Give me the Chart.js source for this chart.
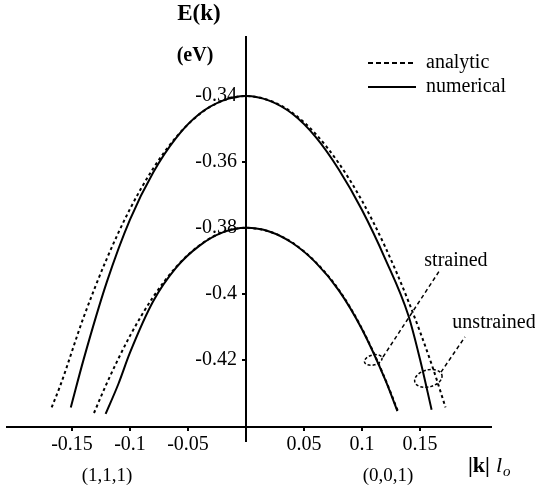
<!DOCTYPE html>
<html>
<head>
<meta charset="utf-8">
<script src="https://cdn.jsdelivr.net/npm/chart.js@4"></script>
<style>
  html, body { margin: 0; padding: 0; background: #fff; }
  canvas { display: block; }
</style>
</head>
<body>
<canvas id="c" width="535" height="492"></canvas>
<script>
// ---- data ----
const xTicks = [-0.15, -0.1, -0.05, 0.05, 0.1, 0.15];
const xTickLabels = ['-0.15', '-0.1', '-0.05', '0.05', '0.1', '0.15'];
const yTicks = [-0.34, -0.36, -0.38, -0.4, -0.42];
const yTickLabels = ['-0.34', '-0.36', '-0.38', '-0.4', '-0.42'];

// unstrained, numerical (solid)
const upperNumK = [-0.151, -0.14, -0.12, -0.10, -0.08, -0.06, -0.04, -0.02, 0, 0.02, 0.04, 0.06, 0.08, 0.10, 0.12, 0.14, 0.15, 0.16];
const upperNumE = [-0.4345, -0.4200, -0.3965, -0.3775, -0.3632, -0.3526, -0.3454, -0.3414, -0.34, -0.3414, -0.3454, -0.3524, -0.3623, -0.3746, -0.3894, -0.4066, -0.4199, -0.4352];
// unstrained, analytic (dashed)
const upperAnaK = [-0.1675, -0.16, -0.14, -0.12, -0.10, -0.08, -0.06, -0.04, -0.02, 0, 0.02, 0.04, 0.06, 0.08, 0.10, 0.12, 0.14, 0.16, 0.172];
const upperAnaE = [-0.4345, -0.4278, -0.4072, -0.3894, -0.3743, -0.3620, -0.3524, -0.3455, -0.3414, -0.34, -0.3413, -0.3451, -0.3515, -0.3604, -0.3718, -0.3858, -0.4023, -0.4214, -0.4345];
// strained, numerical (solid)
const lowerNumK = [-0.121, -0.11, -0.10, -0.08, -0.06, -0.04, -0.02, 0, 0.02, 0.04, 0.06, 0.08, 0.10, 0.12, 0.1305];
const lowerNumE = [-0.4365, -0.4274, -0.4179, -0.4023, -0.3920, -0.3854, -0.3814, -0.38, -0.3811, -0.3846, -0.3905, -0.3990, -0.4108, -0.4261, -0.4356];
// strained, analytic (dashed)
const lowerAnaK = [-0.131, -0.12, -0.10, -0.08, -0.06, -0.04, -0.02, 0, 0.02, 0.04, 0.06, 0.08, 0.10, 0.12, 0.131];
const lowerAnaE = [-0.4362, -0.4272, -0.4128, -0.4010, -0.3918, -0.3853, -0.3813, -0.38, -0.3811, -0.3845, -0.3904, -0.3988, -0.4106, -0.4259, -0.4357];

const seriesLabels = ['analytic', 'numerical'];

// annotation anchors in data units (k, E)
const strainedEllipse = [0.1097, -0.4201];
const strainedLeader = [[0.1181, -0.4192], [0.1672, -0.3928]];
const strainedText = [0.181, -0.3901];
const unstrainedEllipse = [0.1572, -0.4257];
const unstrainedLeader = [[0.1681, -0.4238], [0.1888, -0.4131]];
const unstrainedText = [0.2138, -0.4089];

const pts = (ks, es) => ks.map((k, i) => ({ x: k, y: es[i] }));

const SERIF = '"Liberation Serif", "Times New Roman", serif';

const legendMover = {
  id: 'legendMover',
  afterLayout(chart) {
    const lg = chart.legend;
    if (!lg) return;
    const w = lg.width, h = 60;
    lg.left = 364; lg.top = 49; lg.right = 364 + w; lg.bottom = 49 + h; lg.height = h;
  }
};

const labelPlugin = {
  id: 'labelPlugin',
  afterDraw(chart) {
    const { ctx, scales: { x, y } } = chart;
    const px = v => x.getPixelForValue(v), py = v => y.getPixelForValue(v);
    ctx.save();
    ctx.fillStyle = '#000';
    ctx.strokeStyle = '#000';
    ctx.textBaseline = 'middle';

    // y-axis title
    ctx.textAlign = 'center';
    ctx.font = 'bold 23px ' + SERIF;
    ctx.fillText('E(k)', 199, 14);
    ctx.font = 'bold 20px ' + SERIF;
    ctx.fillText('(eV)', 195, 56);

    // direction labels
    ctx.font = '19px ' + SERIF;
    ctx.fillText('(1,1,1)', 107, 476);
    ctx.fillText('(0,0,1)', 388, 476);

    // x-axis title |k| l_o
    ctx.textAlign = 'left';
    ctx.font = 'bold 22px ' + SERIF;
    let cx = 468;
    ctx.fillText('|k|', cx, 466);
    cx += ctx.measureText('|k|').width + 6;
    ctx.font = 'italic 22px ' + SERIF;
    ctx.fillText('l', cx, 466);
    cx += ctx.measureText('l').width + 1;
    ctx.font = 'italic 15px ' + SERIF;
    ctx.fillText('o', cx, 472);

    // annotations
    ctx.font = '20px ' + SERIF;
    ctx.textAlign = 'center';
    ctx.fillText('strained', px(strainedText[0]), py(strainedText[1]));
    ctx.fillText('unstrained', px(unstrainedText[0]), py(unstrainedText[1]));

    ctx.lineWidth = 1.5;
    ctx.setLineDash([4, 3]);
    const leader = (seg) => {
      ctx.beginPath();
      ctx.moveTo(px(seg[0][0]), py(seg[0][1]));
      ctx.lineTo(px(seg[1][0]), py(seg[1][1]));
      ctx.stroke();
    };
    leader(strainedLeader);
    leader(unstrainedLeader);
    ctx.setLineDash([3, 2]);
    ctx.beginPath();
    ctx.ellipse(px(strainedEllipse[0]), py(strainedEllipse[1]), 9, 5, -0.25, 0, Math.PI * 2);
    ctx.stroke();
    ctx.beginPath();
    ctx.ellipse(px(unstrainedEllipse[0]), py(unstrainedEllipse[1]), 14, 8.5, -0.25, 0, Math.PI * 2);
    ctx.stroke();
    ctx.restore();
  }
};

const dashed = { borderColor: '#000', borderWidth: 2, borderDash: [3, 3], pointRadius: 0, showLine: true, cubicInterpolationMode: 'monotone', fill: false };
const solid = { borderColor: '#000', borderWidth: 2, borderDash: [], pointRadius: 0, showLine: true, cubicInterpolationMode: 'monotone', fill: false };

new Chart(document.getElementById('c'), {
  type: 'scatter',
  data: {
    datasets: [
      Object.assign({ label: seriesLabels[0], data: pts(upperAnaK, upperAnaE) }, dashed),
      Object.assign({ label: seriesLabels[1], data: pts(upperNumK, upperNumE) }, solid),
      Object.assign({ label: seriesLabels[0], data: pts(lowerAnaK, lowerAnaE) }, dashed),
      Object.assign({ label: seriesLabels[1], data: pts(lowerNumK, lowerNumE) }, solid)
    ]
  },
  options: {
    responsive: false,
    animation: false,
    devicePixelRatio: 1,
    layout: { padding: { left: 7, right: 44, top: 37, bottom: 51 } },
    scales: {
      x: {
        type: 'linear', min: -0.206, max: 0.2112,
        position: { y: -0.44045 },
        border: { display: true, color: '#000', width: 2 },
        grid: { display: true, drawOnChartArea: false, drawTicks: true, tickLength: 3, color: '#000', lineWidth: 2 },
        afterBuildTicks: ax => { ax.ticks = xTicks.map(v => ({ value: v })); },
        ticks: {
          autoSkip: false, maxRotation: 0, padding: 3, color: '#000',
          font: { family: SERIF, size: 20 },
          callback: v => xTickLabels[xTicks.indexOf(v)]
        }
      },
      y: {
        type: 'linear', min: -0.4447, max: -0.32209,
        position: { x: 0 },
        border: { display: true, color: '#000', width: 2 },
        grid: { display: true, drawOnChartArea: false, drawTicks: true, tickLength: 3, color: '#000', lineWidth: 2 },
        afterBuildTicks: ax => { ax.ticks = yTicks.map(v => ({ value: v })); },
        ticks: {
          autoSkip: false, padding: 9, color: '#000',
          font: { family: SERIF, size: 20 },
          // trailing spaces keep the right-aligned label clear of the axis line
          callback: v => yTickLabels[yTicks.indexOf(v)] + ' \u2009'
        }
      }
    },
    plugins: {
      tooltip: { enabled: false },
      legend: {
        display: true, position: 'chartArea', align: 'start',
        labels: {
          usePointStyle: true, pointStyle: 'line', pointStyleWidth: 48,
          padding: 4, color: '#000',
          font: { family: SERIF, size: 20 },
          filter: item => item.datasetIndex < 2,
          generateLabels: chart => {
            const items = Chart.defaults.plugins.legend.labels.generateLabels(chart);
            items.forEach(it => {
              it.lineDash = it.datasetIndex % 2 === 0 ? [5, 3] : [];
              it.lineWidth = 2;
              it.strokeStyle = '#000';
              it.fillStyle = '#000';
              it.fontColor = '#000';
            });
            return items;
          }
        }
      }
    }
  },
  plugins: [legendMover, labelPlugin]
});
</script>
</body>
</html>
